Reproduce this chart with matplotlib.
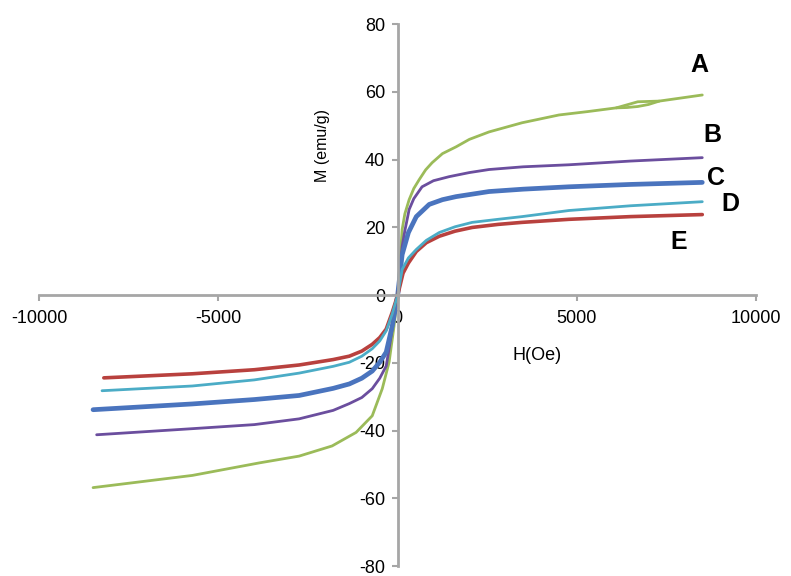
import matplotlib
matplotlib.use("Agg")
import matplotlib.pyplot as plt

plt.rcParams["font.family"] = ["Liberation Sans", "DejaVu Sans"]
plt.rcParams["axes.unicode_minus"] = False
plt.rcParams["lines.solid_joinstyle"] = "round"
plt.rcParams["lines.solid_capstyle"] = "round"

# ---- data (H in Oe, M in emu/g) ----
h_a = [-8500, -5730, -3860, -2750, -1830, -1160, -710, -430, -240, -100, 0,
       60, 125, 200, 320, 450, 600, 780, 960, 1250, 1630, 2000, 2550, 3470,
       4500, 5300, 6100, 6700, 7300, 8500]
m_a = [-56.8, -53.2, -49.5, -47.5, -44.5, -40.5, -35.6, -27.6, -19.8, -9.0, 0.0,
       9.0, 19.4, 24.0, 28.2, 31.5, 34.1, 37.0, 39.1, 41.8, 43.8, 46.0, 48.2, 50.9,
       53.2, 54.2, 55.3, 57.1, 57.3, 59.1]
# small opening of the loop of sample A
h_a_loop = [6100, 6400, 6700, 7000, 7300]
m_a_loop = [55.3, 55.4, 55.7, 56.3, 57.3]

h_b = [-8400, -5730, -4000, -2750, -1800, -1350, -1000, -710, -500, -320, -150, 0,
       125, 200, 320, 450, 680, 1000, 1440, 2000, 2550, 3500, 4780, 6500, 8500]
m_b = [-41.2, -39.4, -38.2, -36.5, -34.0, -32.0, -30.2, -27.6, -24.5, -20.9, -10.0, 0.0,
       14.4, 19.0, 25.3, 28.5, 32.0, 33.8, 35.0, 36.2, 37.1, 37.9, 38.5, 39.6, 40.6]

h_c = [-8500, -5730, -4000, -2750, -1800, -1350, -1000, -710, -500, -320, -150, 0,
       125, 300, 520, 880, 1250, 1630, 2550, 3500, 4780, 6500, 8500]
m_c = [-33.8, -32.1, -30.8, -29.6, -27.5, -26.2, -24.5, -22.4, -19.8, -16.8, -9.0, 0.0,
       12.0, 18.5, 23.2, 26.8, 28.2, 29.1, 30.6, 31.3, 32.0, 32.7, 33.3]

h_d = [-8250, -5730, -4000, -2750, -1800, -1350, -1000, -710, -500, -320, -150, 0,
       125, 300, 520, 800, 1160, 1600, 2080, 2800, 3470, 4780, 6500, 8500]
m_d = [-28.2, -26.8, -25.0, -23.0, -21.0, -19.8, -18.0, -15.8, -13.5, -10.5, -5.5, 0.0,
       7.6, 11.0, 13.5, 16.2, 18.5, 20.2, 21.5, 22.4, 23.2, 25.0, 26.4, 27.6]

h_e = [-8200, -5730, -4000, -2750, -1800, -1350, -1000, -710, -500, -320, -150, 0,
       150, 300, 520, 800, 1160, 1600, 2080, 2800, 3470, 4780, 6500, 8500]
m_e = [-24.4, -23.2, -22.0, -20.6, -19.0, -18.0, -16.5, -14.5, -12.5, -10.0, -5.0, 0.0,
       6.5, 9.5, 12.9, 15.5, 17.4, 18.9, 20.0, 20.9, 21.5, 22.4, 23.2, 23.8]

labels = ["A", "B", "C", "D", "E"]

fig = plt.figure(figsize=(7.91, 5.76), dpi=100)
ax = fig.add_axes([0.0497, 0.017, 0.9061, 0.941])

ax.plot(h_a, m_a, color="#9BBB59", lw=2.0)
ax.plot(h_a_loop, m_a_loop, color="#9BBB59", lw=2.0)
ax.plot(h_b, m_b, color="#6B4E9E", lw=2.0)
ax.plot(h_c, m_c, color="#4A74BE", lw=3.4)
ax.plot(h_e, m_e, color="#B8413E", lw=2.6)
ax.plot(h_d, m_d, color="#4BACC6", lw=2.0)

# curve letters
label_pos = [(8410, 67.9), (8773, 47.4), (8884, 34.7), (9275, 26.8), (7852, 15.6)]
for lab, (x, y) in zip(labels, label_pos):
    ax.text(x, y, lab, fontsize=18, fontweight="bold", ha="center", va="center")

ax.set_xlim(-10000, 10000)
ax.set_ylim(-80, 80)
ax.set_xticks([-10000, -5000, 0, 5000, 10000])
ax.set_yticks([-80, -60, -40, -20, 0, 20, 40, 60, 80])

for side in ["top", "right"]:
    ax.spines[side].set_visible(False)
for side in ["left", "bottom"]:
    ax.spines[side].set_position(("data", 0))
    ax.spines[side].set_color("#A6A6A6")
    ax.spines[side].set_linewidth(2)

ax.tick_params(axis="both", colors="#A6A6A6", labelcolor="black",
               labelsize=13, width=1.5, length=4)
ax.tick_params(axis="x", pad=7)
ax.tick_params(axis="y", pad=5)
ax.patch.set_alpha(0)

ax.text(-2106, 44.1, "M (emu/g)", rotation=90, fontsize=11.5,
        ha="center", va="center")
ax.text(3891, -17.9, "H(Oe)", fontsize=13, ha="center", va="center")

fig.savefig("out.png", dpi=100)
